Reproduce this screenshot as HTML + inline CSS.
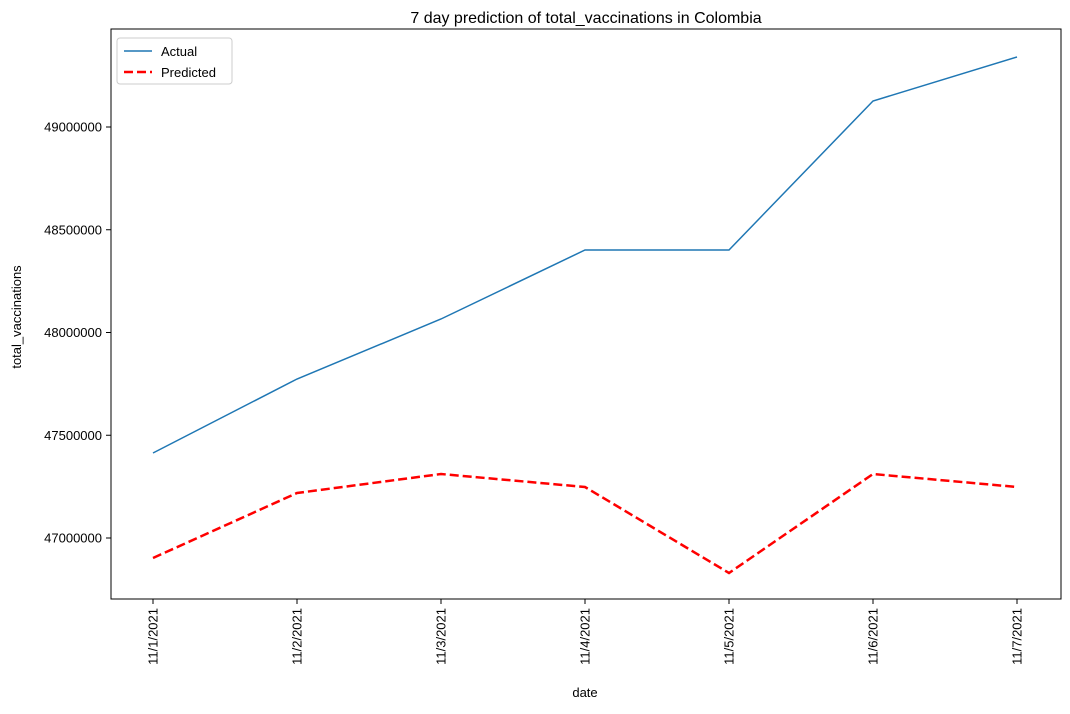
<!DOCTYPE html>
<html><head><meta charset="utf-8"><style>
body{margin:0;background:#fff;}
svg{font-family:"Liberation Sans","DejaVu Sans",sans-serif;}
</style></head><body>
<svg id="chart" width="1070" height="709" viewBox="0 0 1070 709" xmlns="http://www.w3.org/2000/svg">
<rect width="1070" height="709" fill="#fff"/>
<text x="586" y="23" font-size="16" text-anchor="middle">7 day prediction of total_vaccinations in Colombia</text>
<g id="axes"></g>
<g id="series"></g>
<rect x="111" y="29" width="950" height="570" fill="none" stroke="#000" stroke-width="1"/>
<text x="585" y="697" font-size="13" text-anchor="middle">date</text>
<text x="21" y="317" font-size="13" text-anchor="middle" transform="rotate(-90 21 317)">total_vaccinations</text>
<g>
<rect x="117" y="38" width="115" height="46" fill="#fff" stroke="#ccc" rx="3"/>
<line x1="124" y1="51" x2="152" y2="51" stroke="#1f77b4" stroke-width="1.5"/>
<text x="161" y="56" font-size="13">Actual</text>
<line x1="124" y1="72" x2="152" y2="72" stroke="red" stroke-width="2.5" stroke-dasharray="9,4"/>
<text x="161" y="77" font-size="13">Predicted</text>
</g>
</svg>
<script>
const dates = ["11/1/2021","11/2/2021","11/3/2021","11/4/2021","11/5/2021","11/6/2021","11/7/2021"];
const actual = [47413600,47773700,48065700,48401500,48401500,49126500,49340600];
const predicted = [46902700,47219000,47311400,47248200,46829700,47311400,47248200];
const yTicks = [47000000,47500000,48000000,48500000,49000000];

const NS="http://www.w3.org/2000/svg";
function x(i){return 153+i*144;}
function y(v){return 538-(v-47000000)/500000*102.75;}
const axes=document.getElementById('axes');
const series=document.getElementById('series');
function mk(tag,attrs,parent){const e=document.createElementNS(NS,tag);for(const k in attrs)e.setAttribute(k,attrs[k]);parent.appendChild(e);return e;}
yTicks.forEach(v=>{
  const t=mk('line',{x1:106,x2:111,y1:y(v),y2:y(v),stroke:'#000'},axes);
  
  
  const l=mk('text',{x:102,y:y(v)+4.5,'font-size':13,'text-anchor':'end'},axes);
  l.textContent=v;
  
  
});
dates.forEach((d,i)=>{
  const t=mk('line',{x1:x(i),x2:x(i),y1:599,y2:604,stroke:'#000'},axes);
  
  
  const l=mk('text',{x:x(i)+4.5,y:608,'font-size':13,'text-anchor':'end',transform:`rotate(-90 ${x(i)+4.5} 608)`},axes);
  l.textContent=d;
  
  
});
const a=mk('polyline',{points:actual.map((v,i)=>x(i)+','+y(v)).join(' '),fill:'none',stroke:'#1f77b4','stroke-width':1.5},series);


const p=mk('polyline',{points:predicted.map((v,i)=>x(i)+','+y(v)).join(' '),fill:'none',stroke:'red','stroke-width':2.5,'stroke-dasharray':'9,4'},series);


</script>
</body></html>
